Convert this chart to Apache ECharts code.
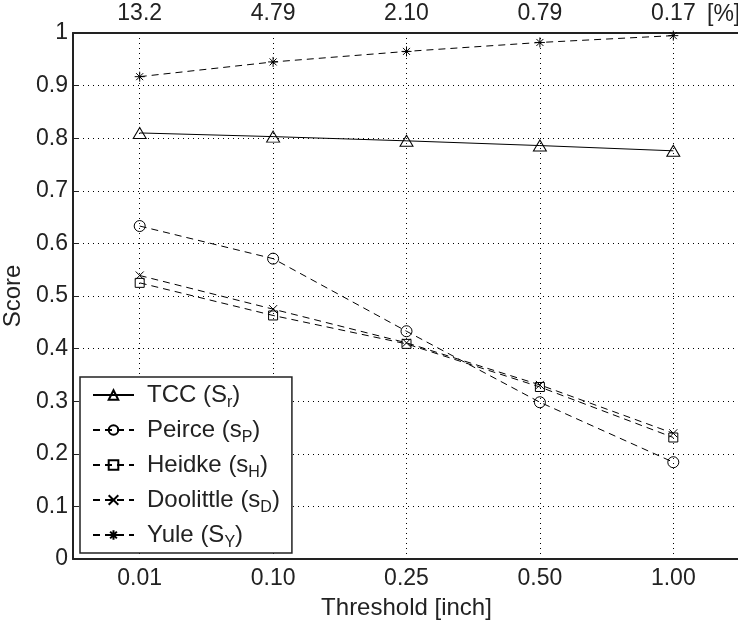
<!DOCTYPE html>
<html><head><meta charset="utf-8">
<script src="https://cdn.jsdelivr.net/npm/echarts@6/dist/echarts.min.js"></script>
<style>html,body{margin:0;padding:0;background:#fff}#c{width:738px;height:625px}</style>
</head><body><div id="c"></div>
<script>
const categories = ['0.01', '0.10', '0.25', '0.50', '1.00'];
const topLabels = ['13.2', '4.79', '2.10', '0.79', '0.17'];
const seriesNames = ['TCC', 'Peirce', 'Heidke', 'Doolittle', 'Yule'];
const legendMain = ['TCC (S', 'Peirce (s', 'Heidke (s', 'Doolittle (s', 'Yule (S'];
const legendSub = ['r', 'P', 'H', 'D', 'Y'];
const tcc = [0.810, 0.803, 0.795, 0.786, 0.776];
const peirce = [0.633, 0.571, 0.433, 0.298, 0.184];
const heidke = [0.525, 0.463, 0.409, 0.327, 0.231];
const doolittle = [0.539, 0.475, 0.411, 0.331, 0.239];
const yule = [0.917, 0.945, 0.965, 0.982, 0.995];

const FONT = 'Liberation Sans';
const FS = 23;
const LFS = 24;
const chart = echarts.init(document.getElementById('c'), null, {renderer: 'canvas'});
const dash = [7, 5];
const sym = {
  tri: 'triangle',
  circ: 'circle',
  sq: 'rect',
  cross: 'path://M0,0 L10,10 M10,0 L0,10',
  star: 'path://M5,0 L5,10 M0,5 L10,5 M1.5,1.5 L8.5,8.5 M8.5,1.5 L1.5,8.5'
};
function mk(name, data, symbol, size, solid) {
  return {
    name: name, type: 'line', data: data, symbol: symbol, symbolSize: size,
    xAxisIndex: 0, yAxisIndex: 0,
    color: '#000',
    lineStyle: {color: '#000', width: 1, type: solid ? 'solid' : dash},
    itemStyle: {color: 'rgba(0,0,0,0)', borderColor: '#000', borderWidth: 1},
    emphasis: {disabled: true},
    animation: false, z: 5
  };
}
const option = {
  animation: false,
  backgroundColor: '#fff',
  textStyle: {fontFamily: FONT},
  grid: {left: 73, top: 33, width: 667, height: 526, containLabel: false, outerBoundsMode: 'none'},
  xAxis: [{
    type: 'category', data: categories, position: 'bottom', boundaryGap: true,
    name: 'Threshold [inch]', nameLocation: 'middle', nameGap: 37,
    nameTextStyle: {fontSize: 24, color: '#222', fontFamily: FONT},
    axisLine: {lineStyle: {color: '#222', width: 2}},
    axisTick: {inside: true, alignWithLabel: true, length: 6, lineStyle: {color: '#222', width: 1}},
    axisLabel: {fontSize: FS, color: '#222', margin: 8, fontFamily: FONT},
    splitLine: {show: true, alignWithLabel: true, lineStyle: {color: '#000', width: 1, type: [1, 4]}}
  }, {
    type: 'category', data: topLabels, position: 'top', boundaryGap: true,
    axisLine: {lineStyle: {color: '#222', width: 2}},
    axisTick: {inside: true, alignWithLabel: true, length: 6, lineStyle: {color: '#222', width: 1}},
    axisLabel: {fontSize: FS, color: '#222', margin: 8, fontFamily: FONT},
    splitLine: {show: false}
  }],
  yAxis: [{
    type: 'value', min: 0, max: 1, interval: 0.1,
    name: 'Score', nameLocation: 'middle', nameGap: 44, nameRotate: 90,
    nameTextStyle: {fontSize: 24, color: '#222', fontFamily: FONT},
    axisLine: {show: true, lineStyle: {color: '#222', width: 2}},
    axisTick: {show: true, inside: true, length: 6, lineStyle: {color: '#222', width: 1}},
    axisLabel: {fontSize: FS, color: '#222', margin: 5, fontFamily: FONT},
    splitLine: {show: true, lineStyle: {color: '#000', width: 1, type: [1, 4]}}
  }],
  legend: {
    show: true, orient: 'vertical', left: 80, top: 377,
    data: seriesNames,
    backgroundColor: '#fff', borderColor: '#222', borderWidth: 1.5,
    padding: [6, 12, 2, 12], itemGap: 7, itemWidth: 41, itemHeight: 12,
    selectedMode: false,
    formatter: function (n) {
      const i = seriesNames.indexOf(n);
      return '{g|}{m|' + legendMain[i] + '}{s|' + legendSub[i] + '}{m|)}';
    },
    textStyle: {
      fontSize: LFS, color: '#222', fontFamily: FONT,
      rich: {
        g: {width: 8, height: 1},
        m: {fontSize: LFS, fontFamily: FONT, color: '#222', verticalAlign: 'top', lineHeight: 24},
        s: {fontSize: 16, fontFamily: FONT, color: '#222', verticalAlign: 'top', lineHeight: 15, padding: [12, 0, 0, 0]}
      }
    }
  },
  graphic: [{
    type: 'text', left: 707, top: 3,
    style: {text: '[%]', fontSize: FS, fontFamily: FONT, fill: '#222'}
  }],
  series: [
    mk('TCC', tcc, sym.tri, [13, 11], true),
    mk('Peirce', peirce, sym.circ, 11, false),
    mk('Heidke', heidke, sym.sq, 9, false),
    mk('Doolittle', doolittle, sym.cross, 8, false),
    mk('Yule', yule, sym.star, 10, false)
  ]
};
chart.setOption(option);
</script></body></html>
